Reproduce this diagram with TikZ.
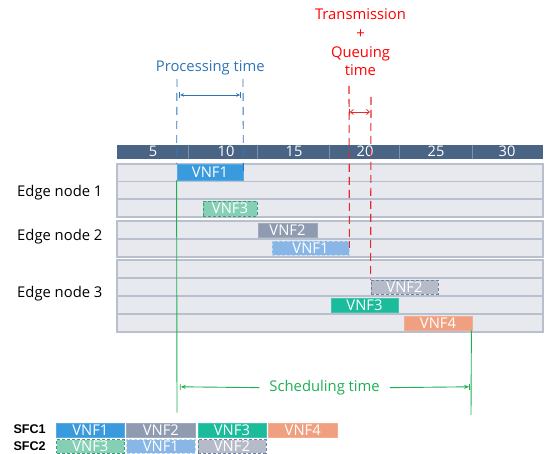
\documentclass[tikz,border=0pt]{standalone}
\usepackage{fontspec}
\setmainfont{Open Sans}
\newfontfamily\sfcfont{Liberation Sans}
\usetikzlibrary{arrows.meta}
\definecolor{hdr}{HTML}{4A6486}
\definecolor{hdrline}{HTML}{7C90AB}
\definecolor{rowfill}{HTML}{E8E9EE}
\definecolor{rowline}{HTML}{B8C0CD}
\definecolor{vA}{HTML}{3A9ADE}
\definecolor{vAl}{HTML}{88B6E6}
\definecolor{vAb}{HTML}{B8D4F2}
\definecolor{vB}{HTML}{8E9BB0}
\definecolor{vBl}{HTML}{B5BBC8}
\definecolor{vBb}{HTML}{6A84A6}
\definecolor{vC}{HTML}{1ABC9C}
\definecolor{vCl}{HTML}{85CFB5}
\definecolor{vCb}{HTML}{3A9E7C}
\definecolor{vD}{HTML}{F0A080}
\definecolor{ptblue}{HTML}{2E75B6}
\definecolor{sgreen}{HTML}{1DB154}
\definecolor{tqred}{HTML}{FF0000}
\definecolor{lred}{HTML}{E52A2A}
\tikzset{
  lbl/.style={font=\fontsize{14.8}{16}\selectfont, inner sep=0pt},
  hnum/.style={font=\fontsize{14.6}{16}\selectfont, text=white, inner sep=0pt, anchor=base},
  blk/.style={inner sep=0pt, text=white, font=\fontsize{14.8}{15}\selectfont, line width=0.8pt},
  solidA/.style={blk, fill=vA, draw=vA!85!white},
  solidB/.style={blk, fill=vB, draw=vB!85!white},
  solidC/.style={blk, fill=vC, draw=vC!85!white},
  solidD/.style={blk, fill=vD, draw=vD!85!white},
  dashA/.style={blk, fill=vAl, draw=vAb, dash pattern=on 3pt off 2pt},
  dashB/.style={blk, fill=vBl, draw=vBb, dash pattern=on 3pt off 2pt},
  dashC/.style={blk, fill=vCl, draw=vCb, dash pattern=on 3pt off 2pt},
  rowbox/.style={draw=rowline, fill=rowfill, line width=1.1pt},
  bdash/.style={ptblue, line width=0.9pt, dash pattern=on 8pt off 6pt},
  rdash/.style={lred, line width=1.1pt, dash pattern=on 8pt off 5pt},
  gline/.style={sgreen, line width=0.9pt},
  sfc/.style={font=\sfcfont\bfseries\fontsize{12.6}{14}\selectfont, inner sep=0pt, anchor=base west},
}
\newcommand{\vblk}[7]{\node[#6, minimum width={#4-#2}, minimum height={#5-#3}] (#1) at ({(#2+#4)/2},{(#3+#5)/2}) {#7};}
\begin{document}
\begin{tikzpicture}[x=1pt,y=-1pt]
\useasboundingbox (0,0) rectangle (546,454);
% header
\fill[hdr] (117,145) rectangle (543,159.5);
\foreach \d in {188,257,329,399,472} \draw[hdrline, line width=0.8pt] (\d,145) -- (\d,159.5);
\node[hnum] (h5) at (153,156.7) {5};
\node[hnum] (h10) at (226,156.7) {10};
\node[hnum] (h15) at (294,156.7) {15};
\node[hnum] (h20) at (365,156.7) {20};
\node[hnum] (h25) at (436,156.7) {25};
\node[hnum] (h30) at (507,156.7) {30};
% rows
\foreach \a/\b in {164/181.5,181.5/199,199/217,221/239,239/257,260/278,278/296,296/314,314/332}
  \draw[rowbox] (117,\a) rectangle (543,\b);
% labels
\node[lbl, anchor=base west] (e1) at (17,196.5) {Edge node 1};
\node[lbl, anchor=base west] (e2) at (17,240.5) {Edge node 2};
\node[lbl, anchor=base west] (e3) at (17,297.5) {Edge node 3};
% blocks
\vblk{a1}{177}{164}{243}{180}{solidA}{VNF1}
\vblk{a3}{203}{201}{257}{216}{dashC}{VNF3}
\vblk{b2}{258}{223}{317}{237}{solidB}{VNF2}
\vblk{b1}{272}{241}{349}{255}{dashA}{VNF1}
\vblk{c2}{371}{280}{438}{294}{dashB}{VNF2}
\vblk{c3}{331}{298}{398}{312}{solidC}{VNF3}
\vblk{c4}{404}{316}{472}{330}{solidD}{VNF4}
% processing time
\node[lbl, text=ptblue, anchor=base] (pt) at (210.3,71.7) {Processing time};
\coordinate (pl) at (177,79);
\coordinate (pr) at (243,79);
\draw[bdash] (pl) -- (a1.north west);
\draw[bdash] (pr) -- (a1.east);
\coordinate (pal) at (179.3,95);
\coordinate (par) at (241,95);
\draw[ptblue, line width=0.8pt, {Bar[width=6pt].Stealth[length=4pt,width=3.5pt]}-{Stealth[length=4pt,width=3.5pt].Bar[width=6pt]}] (pal) -- (par);
% transmission + queuing
\node[lbl, text=tqred, anchor=base] (t1) at (360.5,20) {Transmission};
\node[lbl, text=tqred, anchor=base] (t2) at (360.5,39) {+};
\node[lbl, text=tqred, anchor=base] (t3) at (360.5,57.5) {Queuing};
\node[lbl, text=tqred, anchor=base] (t4) at (360.5,75.5) {time};
\coordinate (rl) at (349,86);
\coordinate (rr) at (371,97);
\draw[rdash] (rl) -- (b1.north east);
\draw[rdash] (b1.north east) -- (b1.east);
\draw[rdash] (rr) -- (c2.north west);
\coordinate (ral) at (349,112);
\coordinate (rar) at (370,112);
\draw[lred, line width=0.8pt, {Bar[width=6pt].Straight Barb[length=3pt,width=5pt]}-{Straight Barb[length=3pt,width=5pt]}] (ral) -- (rar);
% scheduling time
\coordinate (gl) at (177,412.5);
\coordinate (gr) at (471,415);
\draw[gline] (a1.south west) -- (gl);
\draw[gline] (c4.south east) ++(-1,0) -- (gr);
\node[lbl, text=sgreen, fill=white, inner xsep=10pt, anchor=base] (st) at (324.6,391.5) {Scheduling time};
\coordinate (sl) at (179.8,386.8);
\coordinate (sr) at (470,386.8);
\draw[sgreen, line width=0.9pt, {Bar[width=6pt].Stealth[length=5pt,width=4pt]}-] (sl) -- (st.west);
\draw[sgreen, line width=0.9pt, -{Stealth[length=5pt,width=4pt].Bar[width=6pt]}] (st.east) -- (sr);
% SFC legend
\node[sfc] (s1) at (13.3,433.5) {SFC1};
\node[sfc] (s2) at (13.3,450.5) {SFC2};
\vblk{f1}{56.7}{423}{124}{437}{solidA}{VNF1}
\vblk{f2}{126.7}{423}{195}{437}{solidB}{VNF2}
\vblk{f3}{198}{423}{265.9}{437}{solidC}{VNF3}
\vblk{f4}{268.6}{423}{336.9}{437}{solidD}{VNF4}
\vblk{g3}{56.7}{439.5}{124}{453}{dashC}{VNF3}
\vblk{g1}{126.7}{439.5}{195}{453}{dashA}{VNF1}
\vblk{g2}{198}{439.5}{265.9}{453}{dashB}{VNF2}
\end{tikzpicture}
\end{document}
